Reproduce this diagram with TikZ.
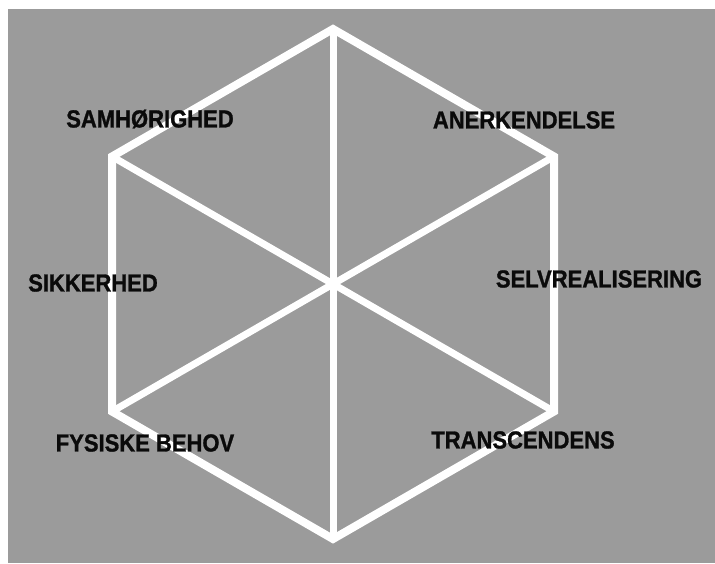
\documentclass[tikz,border=0pt]{standalone}
\usepackage{fontspec}
\setmainfont{Liberation Sans}
\newfontfamily\heavyfont[BoldFont={Liberation Sans Bold}, BoldFeatures={FakeBold=1.2}]{Liberation Sans}
\definecolor{bggrey}{RGB}{155,155,155}
\definecolor{ink}{RGB}{10,10,10}
\tikzset{
  hexline/.style={draw=white, line width=8pt, line join=miter, line cap=butt},
  spoke/.style={draw=white, line width=7pt},
  lbl/.style={text=ink, font=\heavyfont\fontsize{22}{24}\selectfont\bfseries, inner sep=0pt, anchor=center, yscale=1.12}
}
\begin{document}
\begin{tikzpicture}[x=1pt,y=-1pt]
\useasboundingbox (0,0) rectangle (715,563);
\fill[bggrey] (8,9) rectangle (715,563);
\coordinate (c) at (333,284);
\coordinate (t) at (333,29);
\coordinate (ur) at (554,156.5);
\coordinate (lr) at (554,411.5);
\coordinate (b) at (333,539);
\coordinate (ll) at (112,411.5);
\coordinate (ul) at (112,156.5);
\draw[spoke] (t) -- (b);
\draw[spoke] (ul) -- (lr);
\draw[spoke] (ur) -- (ll);
\draw[hexline] (t) -- (ur) -- (lr) -- (b) -- (ll) -- (ul) -- cycle;
\node[lbl] (samh) at (150,119) {SAMHØRIGHED};
\node[lbl] (aner) at (524,120) {ANERKENDELSE};
\node[lbl] (sikk) at (93,283) {SIKKERHED};
\node[lbl] (selv) at (599,279) {SELVREALISERING};
\node[lbl] (fysi) at (145,443) {FYSISKE BEHOV};
\node[lbl] (tran) at (523,440) {TRANSCENDENS};
\end{tikzpicture}
\end{document}
